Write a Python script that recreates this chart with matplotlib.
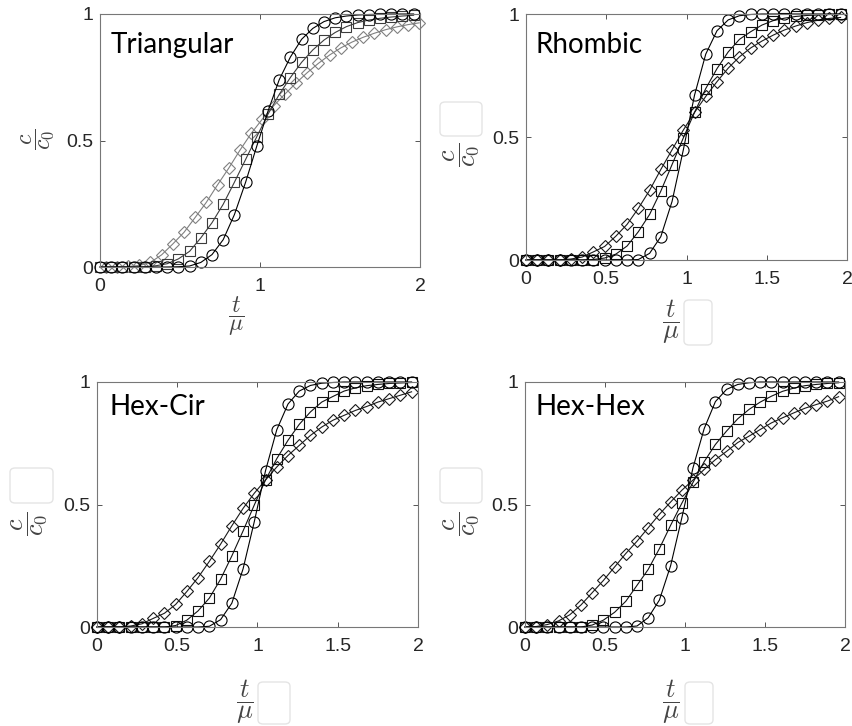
import numpy as np
import matplotlib
matplotlib.use("Agg")
import matplotlib.pyplot as plt
from matplotlib.patches import FancyBboxPatch

plt.rcParams['font.family'] = ['Liberation Sans', 'DejaVu Sans']
plt.rcParams['mathtext.fontset'] = 'cm'

# t/mu sample points (29 of them, step 0.07)
t = np.round(np.arange(29) * 0.07, 3)
# in the triangular panel the diamonds sit half a step to the right
t_half = t + 0.035

# --- Triangular
tri_circ = [0, 0, 0, 0, 0, 0, 0, 0.001, 0.004, 0.018, 0.049, 0.108, 0.207, 0.335, 0.478,
            0.616, 0.74, 0.83, 0.90, 0.943, 0.97, 0.985, 0.992, 0.996, 0.998, 0.999, 1.0, 1.0, 1.0]
tri_sq = [0, 0, 0, 0, 0.001, 0.005, 0.013, 0.032, 0.062, 0.115, 0.175, 0.248, 0.335, 0.425, 0.515,
          0.604, 0.682, 0.749, 0.809, 0.858, 0.897, 0.927, 0.95, 0.966, 0.976, 0.983, 0.988, 0.992, 0.995]
tri_dia = [0, 0, 0.002, 0.006, 0.018, 0.048, 0.091, 0.137, 0.196, 0.256, 0.325, 0.391, 0.462, 0.528, 0.585,
           0.637, 0.683, 0.727, 0.768, 0.805, 0.838, 0.866, 0.889, 0.908, 0.924, 0.938, 0.949, 0.958, 0.965]

# --- Rhombic
rho_circ = [0, 0, 0, 0, 0, 0, 0, 0, 0, 0, 0.002, 0.027, 0.095, 0.238, 0.447,
            0.67, 0.837, 0.932, 0.976, 0.993, 0.998, 1.0, 1.0, 1.0, 1.0, 1.0, 1.0, 1.0, 1.0]
rho_sq = [0, 0, 0, 0, 0, 0, 0.002, 0.008, 0.024, 0.057, 0.115, 0.185, 0.28, 0.388, 0.496,
          0.60, 0.697, 0.778, 0.846, 0.897, 0.928, 0.955, 0.973, 0.983, 0.99, 0.994, 0.996, 0.998, 0.999]
rho_dia = [0, 0, 0, 0, 0.004, 0.012, 0.033, 0.055, 0.097, 0.145, 0.21, 0.283, 0.368, 0.448, 0.528,
           0.60, 0.665, 0.725, 0.78, 0.826, 0.862, 0.89, 0.914, 0.935, 0.951, 0.965, 0.975, 0.982, 0.986]

# --- Hex-Cir
hc_circ = [0, 0, 0, 0, 0, 0, 0, 0, 0, 0, 0.003, 0.03, 0.097, 0.237, 0.43,
           0.638, 0.805, 0.91, 0.963, 0.986, 0.995, 0.998, 1.0, 1.0, 1.0, 1.0, 1.0, 1.0, 1.0]
hc_sq = [0, 0, 0, 0, 0, 0, 0, 0.006, 0.028, 0.066, 0.118, 0.195, 0.29, 0.392, 0.498,
         0.60, 0.687, 0.762, 0.827, 0.878, 0.918, 0.941, 0.963, 0.976, 0.985, 0.99, 0.994, 0.996, 0.998]
hc_dia = [0, 0, 0, 0.004, 0.013, 0.035, 0.056, 0.092, 0.145, 0.202, 0.268, 0.338, 0.413, 0.484, 0.546,
          0.60, 0.653, 0.70, 0.741, 0.782, 0.816, 0.844, 0.864, 0.884, 0.90, 0.918, 0.932, 0.946, 0.96]

# --- Hex-Hex
hh_circ = [0, 0, 0, 0, 0, 0, 0, 0, 0, 0, 0.004, 0.038, 0.11, 0.25, 0.445,
           0.65, 0.81, 0.92, 0.97, 0.99, 0.997, 1.0, 1.0, 1.0, 1.0, 1.0, 1.0, 1.0, 1.0]
hh_sq = [0, 0, 0, 0, 0, 0, 0.008, 0.028, 0.06, 0.105, 0.17, 0.235, 0.32, 0.415, 0.505,
         0.59, 0.675, 0.745, 0.80, 0.85, 0.888, 0.918, 0.942, 0.962, 0.975, 0.985, 0.99, 0.994, 0.997]
hh_dia = [0, 0.002, 0.01, 0.025, 0.05, 0.09, 0.14, 0.19, 0.245, 0.30, 0.35, 0.405, 0.46, 0.51, 0.558,
          0.60, 0.643, 0.683, 0.717, 0.753, 0.779, 0.806, 0.833, 0.854, 0.874, 0.893, 0.908, 0.922, 0.94]

names = ["Triangular", "Rhombic", "Hex-Cir", "Hex-Hex"]
xticks_all = [[0, 1, 2], [0, 0.5, 1, 1.5, 2], [0, 0.5, 1, 1.5, 2], [0, 0.5, 1, 1.5, 2]]
yticks = [0, 0.5, 1]

W, H = 853, 726
fig = plt.figure(figsize=(W / 100, H / 100), dpi=100)


def pbox(l, tp, r, b):
    # pixel box (top-left origin) -> figure fraction
    return [l / W, 1 - b / H, (r - l) / W, (b - tp) / H]


def fpos(x, y):
    return x / W, 1 - y / H


axes_px = [(100, 14, 420, 267), (526, 14, 847, 260), (97, 382, 418, 627), (525, 382, 845, 627)]
data = [(tri_circ, tri_sq, tri_dia, t_half),
        (rho_circ, rho_sq, rho_dia, t),
        (hc_circ, hc_sq, hc_dia, t),
        (hh_circ, hh_sq, hh_dia, t)]
title_pos = [(111, 53), (535, 53), (110, 415), (536, 415)]
ylab_pos = [(38, 139), (462, 155), (30, 524), (462, 524)]
xlab_pos = [(236, 316), (671, 322), (245, 702), (671, 702)]
lab_size = [17, 19, 19, 19]
# pale leftover boxes next to some axis labels
ghost_boxes = [(684, 300, 712, 345), (258, 682, 290, 724), (685, 682, 713, 724),
               (440, 102, 482, 136), (10, 468, 53, 503), (440, 468, 482, 503)]

for k in range(4):
    ax = fig.add_axes(pbox(*axes_px[k]))
    circ, sq, dia, td = data[k]
    if k == 0:
        cc, cs, cd = 'k', '#3c3c3c', '#808080'
    else:
        cc, cs, cd = 'k', '#111111', '#1a1a1a'
    ax.plot(td, dia, '-D', color=cd, mfc='none', ms=6.5, mew=0.8, lw=0.8, clip_on=False)
    ax.plot(t, sq, '-s', color=cs, mfc='none', ms=6.5, mew=0.8, lw=0.8, clip_on=False)
    ax.plot(t, circ, '-o', color=cc, mfc='none', ms=8, mew=0.8, lw=0.8, clip_on=False)

    ax.set_xlim(0, 2)
    ax.set_ylim(0, 1)
    ax.set_xticks(xticks_all[k])
    ax.set_xticklabels([f"{v:g}" for v in xticks_all[k]])
    ax.set_yticks(yticks)
    ax.set_yticklabels(["0", "0.5", "1"])
    ax.tick_params(direction='in', length=3.5, width=0.7, color='#555555',
                   labelsize=14, labelcolor='#262626', top=True, right=True)
    ax.tick_params(axis='x', pad=8)
    ax.tick_params(axis='y', pad=5)
    for s in ax.spines.values():
        s.set_color('#777777')
        s.set_linewidth(0.8)

    fig.text(*fpos(*title_pos[k]), names[k], fontfamily='Lato', fontsize=20,
             ha='left', va='baseline', color='k')
    fig.text(*fpos(*ylab_pos[k]), r'$\dfrac{c}{c_0}$', rotation=90, fontsize=lab_size[k],
             ha='center', va='center', color='#444444')
    fig.text(*fpos(*xlab_pos[k]), r'$\dfrac{t}{\mu}$', fontsize=lab_size[k],
             ha='center', va='center', color='#444444')

for (l, tp, r, b) in ghost_boxes:
    fig.patches.append(FancyBboxPatch((l / W, 1 - b / H), (r - l) / W, (b - tp) / H,
                                      boxstyle='round,pad=0,rounding_size=0.006',
                                      transform=fig.transFigure, fc='white',
                                      ec='#e4e4e4', lw=1.0, figure=fig))

fig.savefig("out.png", dpi=100)
